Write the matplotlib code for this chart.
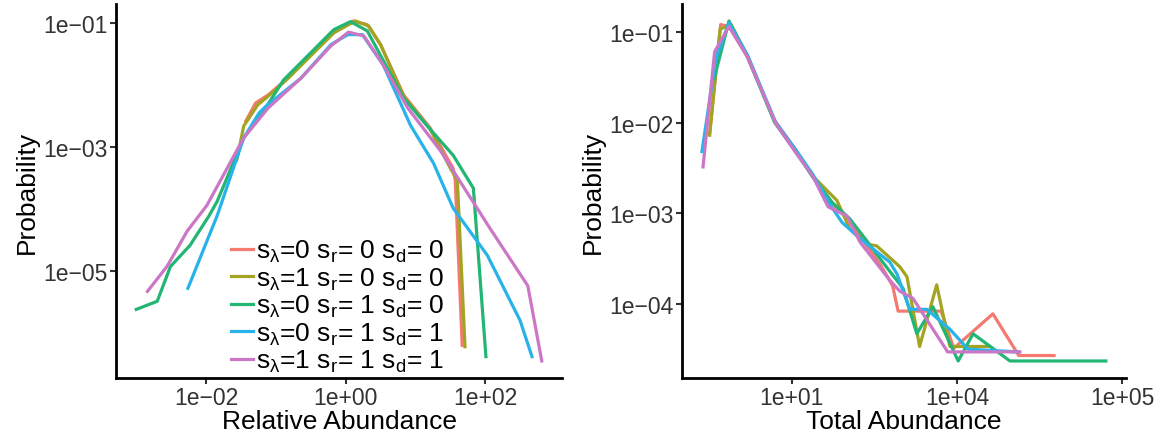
import numpy as np
import matplotlib
matplotlib.use("Agg")
import matplotlib.pyplot as plt

plt.rcParams['font.family'] = ['Liberation Sans', 'DejaVu Sans']
plt.rcParams['mathtext.fontset'] = 'custom'
plt.rcParams['mathtext.rm'] = 'Liberation Sans'
plt.rcParams['mathtext.default'] = 'rm'

# series labels and colours
labels = [r"s$_{\lambda}$=0 s$_{r}$= 0 s$_{d}$= 0",
          r"s$_{\lambda}$=1 s$_{r}$= 0 s$_{d}$= 0",
          r"s$_{\lambda}$=0 s$_{r}$= 1 s$_{d}$= 0",
          r"s$_{\lambda}$=0 s$_{r}$= 1 s$_{d}$= 1",
          r"s$_{\lambda}$=1 s$_{r}$= 1 s$_{d}$= 1"]
colors = ["#F47A70", "#A2A422", "#22B574", "#27B3EA", "#CB77C6"]

# relative abundance panel (log10 of x and probability)
rel_x_000 = [-1.43, -1.29, -1.11, -0.83, -0.50, -0.17, 0.11, 0.31, 0.50, 0.83, 1.21, 1.54, 1.57, 1.67]
rel_y_000 = [-2.58, -2.29, -2.16, -1.89, -1.52, -1.16, -0.97, -1.03, -1.35, -2.16, -2.69, -3.34, -3.53, -6.19]
rel_x_100 = [-1.56, -1.46, -1.26, -1.11, -0.83, -0.50, -0.17, 0.14, 0.33, 0.50, 0.83, 1.21, 1.50, 1.60, 1.71]
rel_y_100 = [-3.21, -2.66, -2.32, -2.18, -1.90, -1.53, -1.16, -0.97, -1.05, -1.35, -2.18, -2.71, -3.34, -3.53, -6.21]
rel_x_010 = [-3.00, -2.70, -2.51, -2.23, -1.96, -1.84, -1.46, -1.21, -0.89, -0.17, 0.07, 0.31, 0.83, 1.17, 1.54, 1.83, 2.01]
rel_y_010 = [-5.61, -5.48, -4.92, -4.58, -4.11, -3.87, -2.85, -2.48, -1.92, -1.11, -0.98, -1.13, -2.21, -2.66, -3.13, -3.66, -6.37]
rel_x_011 = [-2.26, -1.84, -1.46, -1.24, -1.14, -0.64, -0.21, 0.03, 0.24, 0.54, 0.93, 1.26, 1.54, 2.03, 2.50, 2.67]
rel_y_011 = [-5.27, -4.10, -2.85, -2.45, -2.34, -1.89, -1.35, -1.19, -1.19, -1.68, -2.65, -3.26, -3.98, -4.74, -5.79, -6.37]
rel_x_111 = [-2.84, -2.56, -2.27, -1.99, -1.46, -1.11, -0.64, -0.21, 0.04, 0.26, 0.54, 0.89, 1.36, 2.07, 2.61, 2.81]
rel_y_111 = [-5.32, -4.92, -4.35, -3.94, -2.85, -2.37, -1.89, -1.37, -1.15, -1.21, -1.68, -2.37, -3.06, -4.31, -5.23, -6.44]

# total abundance panel (log10 of x and probability)
tot_x_000 = [-0.49, -0.29, -0.14, 0.19, 0.68, 1.06, 1.38, 1.75, 2.05, 2.34, 2.60, 2.83, 2.93, 3.71, 3.94, 4.65, 5.12, 5.76]
tot_y_000 = [-2.12, -0.92, -0.94, -1.27, -1.97, -2.29, -2.59, -2.90, -3.08, -3.34, -3.56, -3.80, -4.08, -4.08, -4.49, -4.11, -4.57, -4.57]
tot_x_100 = [-0.49, -0.30, -0.10, 0.20, 0.69, 1.07, 1.38, 1.82, 2.05, 2.36, 2.54, 2.96, 3.09, 3.32, 3.63, 3.87, 4.58]
tot_y_100 = [-2.14, -0.97, -0.92, -1.27, -1.99, -2.32, -2.59, -2.86, -3.17, -3.34, -3.36, -3.59, -3.70, -4.47, -3.79, -4.47, -4.47]
tot_x_010 = [-0.41, -0.14, 0.20, 0.69, 1.07, 1.38, 1.73, 2.05, 2.33, 2.60, 3.02, 3.27, 3.56, 4.02, 4.29, 4.96, 6.70]
tot_y_010 = [-1.52, -0.88, -1.28, -2.00, -2.32, -2.60, -2.88, -3.06, -3.28, -3.50, -3.83, -4.33, -4.03, -4.63, -4.33, -4.63, -4.63]
tot_x_011 = [-0.63, -0.38, -0.14, 0.20, 0.71, 1.06, 1.38, 1.69, 1.91, 2.24, 2.53, 2.78, 2.91, 3.14, 3.45, 3.87, 4.20, 5.12]
tot_y_011 = [-2.32, -1.30, -0.90, -1.26, -2.00, -2.29, -2.57, -2.90, -3.10, -3.28, -3.42, -3.54, -3.67, -4.06, -4.06, -4.28, -4.50, -4.53]
tot_x_111 = [-0.61, -0.40, -0.14, 0.20, 0.71, 1.06, 1.38, 1.66, 2.00, 2.24, 2.78, 2.96, 3.20, 3.83, 5.14]
tot_y_111 = [-2.49, -1.22, -0.94, -1.28, -2.01, -2.32, -2.59, -2.93, -3.03, -3.32, -3.74, -3.86, -3.94, -4.53, -4.53]

rel_series = [(rel_x_000, rel_y_000), (rel_x_100, rel_y_100), (rel_x_010, rel_y_010),
              (rel_x_011, rel_y_011), (rel_x_111, rel_y_111)]
tot_series = [(tot_x_000, tot_y_000), (tot_x_100, tot_y_100), (tot_x_010, tot_y_010),
              (tot_x_011, tot_y_011), (tot_x_111, tot_y_111)]

rel_xticks = [1e-2, 1e0, 1e2]
rel_xticklabels = ["1e\u221202", "1e+00", "1e+02"]
rel_yticks = [1e-1, 1e-3, 1e-5]
rel_yticklabels = ["1e\u221201", "1e\u221203", "1e\u221205"]
tot_xticks = [1e1, 1e4, 1e7]
tot_xticklabels = ["1e+01", "1e+04", "1e+05"]
tot_yticks = [1e-1, 1e-2, 1e-3, 1e-4]
tot_yticklabels = ["1e\u221201", "1e\u221202", "1e\u221203", "1e\u221204"]

fig = plt.figure(figsize=(11.61, 4.39), dpi=100)
ax1 = fig.add_axes([0.0999, 0.1367, 0.3842, 0.852])
ax2 = fig.add_axes([0.5872, 0.1367, 0.3827, 0.852])

for (xs, ys), c, lab in zip(rel_series, colors, labels):
    ax1.plot(10 ** np.array(xs), 10 ** np.array(ys), color=c, lw=2.3, label=lab)
for (xs, ys), c in zip(tot_series, colors):
    ax2.plot(10 ** np.array(xs), 10 ** np.array(ys), color=c, lw=2.3)

def style(ax, xt, xtl, yt, ytl, xlabel):
    ax.set_xscale('log')
    ax.set_yscale('log')
    ax.margins(0.05)
    ax.set_xticks(xt)
    ax.set_xticklabels(xtl)
    ax.set_yticks(yt)
    ax.set_yticklabels(ytl)
    ax.minorticks_off()
    for s in ['top', 'right']:
        ax.spines[s].set_visible(False)
    for s in ['left', 'bottom']:
        ax.spines[s].set_linewidth(2)
        ax.spines[s].set_color('black')
    ax.tick_params(length=4, width=1.5, color='#333333', labelsize=16.5,
                   labelcolor='#333333', pad=2)
    ax.set_xlabel(xlabel, fontsize=19, labelpad=0)
    ax.set_ylabel("Probability", fontsize=19, labelpad=3)

style(ax1, rel_xticks, rel_xticklabels, rel_yticks, rel_yticklabels, "Relative Abundance")
style(ax2, tot_xticks, tot_xticklabels, tot_yticks, tot_yticklabels, "Total Abundance")

ax1.legend(loc='lower left', bbox_to_anchor=(0.258, 0.01), frameon=False,
           fontsize=19, handlelength=0.85, handletextpad=0.08, labelspacing=0.05,
           borderpad=0, borderaxespad=0)

fig.savefig("out.png", dpi=100)
